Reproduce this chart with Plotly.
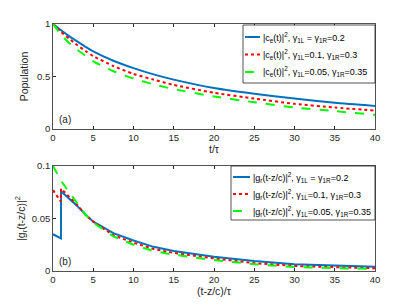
import plotly.graph_objects as go
from plotly.subplots import make_subplots

# ---- data ----
t_top = [0, 1, 2, 3, 4, 5, 7.5, 10, 12.5, 15, 20, 25, 30, 35, 40]
pop_sym = [1, 0.94, 0.885, 0.835, 0.785, 0.74, 0.65, 0.58, 0.52, 0.47, 0.39, 0.335, 0.29, 0.25, 0.22]
pop_a = [1, 0.925, 0.86, 0.80, 0.745, 0.695, 0.60, 0.525, 0.47, 0.42, 0.345, 0.29, 0.24, 0.205, 0.175]
pop_b = [1, 0.90, 0.82, 0.755, 0.70, 0.645, 0.55, 0.48, 0.425, 0.38, 0.31, 0.255, 0.205, 0.17, 0.135]

t_bot = [0, 0.99, 1.0, 2, 3, 4, 5, 7.5, 10, 12.5, 15, 20, 25, 30, 35, 40]
g_sym = [0.035, 0.031, 0.076, 0.069, 0.062, 0.054, 0.047, 0.036, 0.029, 0.023, 0.019, 0.0136, 0.0095, 0.0065, 0.005, 0.004]
g_a = [0.077, 0.066, 0.0785, 0.071, 0.063, 0.054, 0.047, 0.034, 0.027, 0.021, 0.0172, 0.012, 0.0075, 0.0048, 0.0035, 0.0026]
t_bot_b = [0, 1, 2, 3, 4, 5, 7.5, 10, 12.5, 15, 20, 25, 30, 35, 40]
g_b = [0.1, 0.086, 0.075, 0.064, 0.054, 0.046, 0.033, 0.025, 0.019, 0.0155, 0.0104, 0.0065, 0.0037, 0.0027, 0.002]

top_names = [
    "|c<sub>e</sub>(t)|<sup>2</sup>, γ<sub>1L</sub> = γ<sub>1R</sub>=0.2",
    "|c<sub>e</sub>(t)|<sup>2</sup>, γ<sub>1L</sub>=0.1, γ<sub>1R</sub>=0.3",
    "|c<sub>e</sub>(t)|<sup>2</sup>, γ<sub>1L</sub>=0.05, γ<sub>1R</sub>=0.35",
]
bot_names = [
    "|g<sub>r</sub>(t-z/c)|<sup>2</sup>, γ<sub>1L</sub> = γ<sub>1R</sub>=0.2",
    "|g<sub>r</sub>(t-z/c)|<sup>2</sup>, γ<sub>1L</sub>=0.1, γ<sub>1R</sub>=0.3",
    "|g<sub>r</sub>(t-z/c)|<sup>2</sup>, γ<sub>1L</sub>=0.05, γ<sub>1R</sub>=0.35",
]

BLUE = "#0072BD"
RED = "#FF0000"
GREEN = "#00FF00"
FONT = "Liberation Sans, Arial, sans-serif"
TXT = "#262626"

W, H = 415, 307
ML, MR, MT, MB = 53, 40, 24, 36
PW, PH = W - ML - MR, H - MT - MB


def px(x):
    return (x - ML) / PW


def py(y):
    return (H - MB - y) / PH


fig = make_subplots(rows=2, cols=1, vertical_spacing=0.15)

styles = [(BLUE, "solid"), (RED, "dot"), (GREEN, "dash")]
for (c, d), y, n in zip(styles, [pop_sym, pop_a, pop_b], top_names):
    fig.add_trace(go.Scatter(x=t_top, y=y, mode="lines", name=n, showlegend=False,
                             line=dict(color=c, dash=d, width=2, shape="spline", smoothing=0.6)), row=1, col=1)

for (c, d), x, y, n in zip(styles, [t_bot, t_bot, t_bot_b], [g_sym, g_a, g_b], bot_names):
    fig.add_trace(go.Scatter(x=x, y=y, mode="lines", name=n, showlegend=False,
                             line=dict(color=c, dash=d, width=2)), row=2, col=1)

ax = dict(showline=True, mirror="ticks", linecolor=TXT, linewidth=0.8, ticks="inside",
          ticklen=3, tickcolor=TXT, showgrid=False, zeroline=False, automargin=False,
          tickfont=dict(size=9.5, color=TXT, family=FONT))
fig.update_xaxes(**ax, range=[0, 40], dtick=5)
fig.update_yaxes(**ax)
tf = dict(size=10.5, family=FONT, color=TXT)
fig.update_xaxes(title=dict(text="t/τ", font=tf, standoff=3), row=1, col=1)
fig.update_xaxes(title=dict(text="(t-z/c)/τ", font=tf, standoff=3), row=2, col=1)
fig.update_yaxes(range=[0, 1], tickvals=[0, 0.5, 1], ticktext=["0", "0.5", "1"],
                 title=dict(text="Population", font=tf, standoff=6), row=1, col=1)
fig.update_yaxes(range=[0, 0.1], tickvals=[0, 0.05, 0.1], ticktext=["0", "0.05", "0.1"],
                 title=dict(text="|g<sub>r</sub>(t-z/c)|<sup>2</sup>", font=tf, standoff=4), row=2, col=1)

fig.update_layout(
    xaxis=dict(domain=[0, 1]), yaxis=dict(domain=[py(129), 1]),
    xaxis2=dict(domain=[0, 1]), yaxis2=dict(domain=[0, py(166)]),
)

# ---- manual legends (MATLAB-like compact boxes) ----
def add_legend(names, box, rows, x_line0, x_line1, x_text):
    x0, y0, x1, y1 = box
    fig.add_shape(type="rect", xref="paper", yref="paper", x0=px(x0), x1=px(x1), y0=py(y1), y1=py(y0),
                  line=dict(color=TXT, width=0.8), fillcolor="white", layer="above")
    for (c, d), n, yy in zip(styles, names, rows):
        fig.add_shape(type="line", xref="paper", yref="paper", x0=px(x_line0), x1=px(x_line1),
                      y0=py(yy), y1=py(yy), line=dict(color=c, dash=d, width=2), layer="above")
        fig.add_annotation(xref="paper", yref="paper", x=px(x_text), y=py(yy), text=n, showarrow=False,
                           xanchor="left", yanchor="middle", font=dict(size=9, family=FONT, color="#000"))

add_legend(top_names, (243, 25, 375, 83), (37, 54.5, 72), 245, 260, 260.5)
add_legend(bot_names, (231, 166, 375, 220), (177, 194, 211), 233, 250, 250.5)

fig.add_annotation(x=0.5, y=0.02, xref="x", yref="y", text="(a)", showarrow=False,
                   xanchor="left", yanchor="bottom", font=dict(size=10, family=FONT, color=TXT))
fig.add_annotation(x=0.5, y=0.002, xref="x2", yref="y2", text="(b)", showarrow=False,
                   xanchor="left", yanchor="bottom", font=dict(size=10, family=FONT, color=TXT))

fig.update_layout(width=W, height=H, margin=dict(l=ML, r=MR, t=MT, b=MB),
                  paper_bgcolor="white", plot_bgcolor="white", showlegend=False,
                  font=dict(family=FONT))
fig.write_html("out.html", config={"displayModeBar": False, "staticPlot": True},
               post_script="document.body.style.margin='0';document.body.style.padding='0';")
